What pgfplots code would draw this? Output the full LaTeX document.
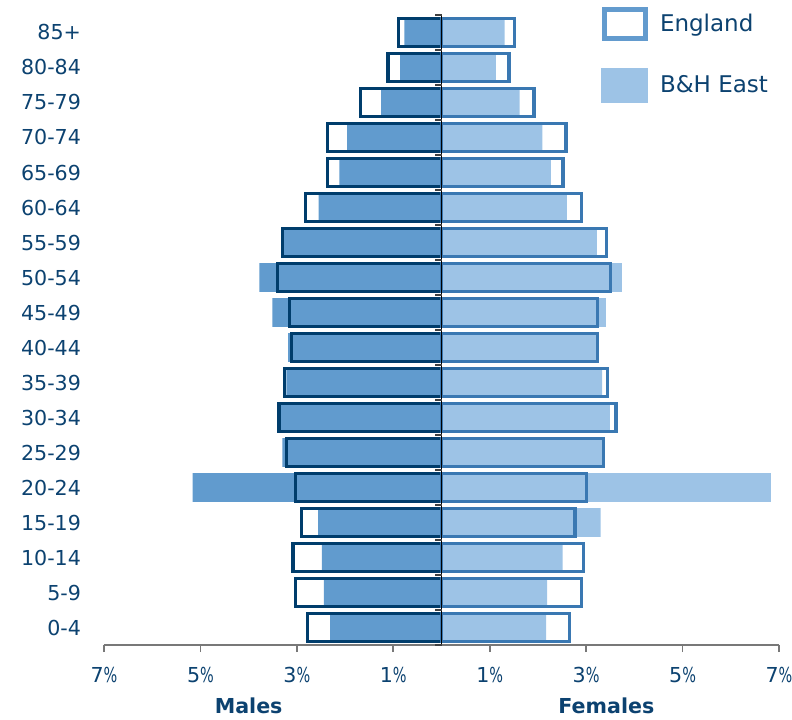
\documentclass[border=0pt]{standalone}
\usepackage{fontspec}
\setmainfont{DejaVu Sans}
\usepackage{pgfplots}
\usepackage{pgfplotstable}
\pgfplotsset{compat=1.18}
\usetikzlibrary{calc}
\definecolor{maleFill}{RGB}{97,155,206}
\definecolor{femaleFill}{RGB}{157,195,230}
\definecolor{maleEdge}{RGB}{0,61,108}
\definecolor{femaleEdge}{RGB}{58,120,178}
\definecolor{legBlue}{RGB}{99,155,206}
\definecolor{txt}{RGB}{12,66,112}
\definecolor{axisgray}{RGB}{120,120,120}
\newcommand\pc{\scalebox{0.7}[1]{\%}}
% idx  mBH  mEN  fBH  fEN   (males negative)
\pgfplotstableread{
idx mBH mEN fBH fEN
0 -2.31 -2.78 2.17 2.66
1 -2.44 -3.03 2.19 2.90
2 -2.48 -3.08 2.51 2.94
3 -2.56 -2.91 3.30 2.77
4 -5.16 -3.03 6.83 3.00
5 -3.30 -3.22 3.34 3.36
6 -3.36 -3.37 3.49 3.62
7 -3.22 -3.26 3.33 3.44
8 -3.18 -3.11 3.20 3.23
9 -3.51 -3.15 3.41 3.23
10 -3.78 -3.40 3.74 3.51
11 -3.28 -3.30 3.22 3.43
12 -2.55 -2.82 2.60 2.91
13 -2.12 -2.36 2.27 2.52
14 -1.96 -2.36 2.09 2.58
15 -1.25 -1.68 1.62 1.92
16 -0.86 -1.11 1.13 1.40
17 -0.77 -0.90 1.31 1.52
}\pyr
\begin{document}
\begin{tikzpicture}
\begin{axis}[
  scale only axis, width=337.5pt, height=315pt,
  xmin=-7, xmax=7, ymin=-0.5, ymax=17.5,
  axis x line*=bottom, axis y line*=left,
  y axis line style={draw=none},
  x axis line style={draw=axisgray, line width=0.8pt},
  xtick={-7,-5,-3,-1,1,3,5,7},
  xticklabels={7\pc,5\pc,3\pc,1\pc,1\pc,3\pc,5\pc,7\pc},
  xtick style={draw=axisgray, line width=0.8pt},
  tick align=outside, major tick length=3.5pt,
  ytick={0,...,17},
  yticklabels={0-4,5-9,10-14,15-19,20-24,25-29,30-34,35-39,40-44,45-49,50-54,55-59,60-64,65-69,70-74,75-79,80-84,85+},
  ytick style={draw=none},
  tick label style={font=\fontsize{10.3}{12}\selectfont, text=txt},
  xticklabel style={yshift=-4pt},
  yticklabel style={xshift=-4.5pt},
  xbar, bar width=0.82, bar shift=0pt,
  clip=false,
  legend style={at={(0.736,1.0132)}, anchor=north west, draw=none, fill=none,
    inner sep=0pt, row sep=13.5pt, column sep=4pt,
    font=\fontsize{11.5}{13}\selectfont, text=txt, cells={anchor=west}},
]
\addlegendimage{legend image code/.code={\draw[draw=legBlue, line width=2.5pt, fill=white] (1.25pt,-7.25pt) rectangle (21.75pt,7.25pt);}}
\addlegendentry{England}
\addlegendimage{legend image code/.code={\fill[femaleFill] (0pt,-8.5pt) rectangle (23pt,8.5pt);}}
\addlegendentry{B\&H East}
\addplot[fill=maleFill, draw=none, forget plot] table[x=mBH, y=idx] {\pyr};
\addplot[fill=femaleFill, draw=none, forget plot] table[x=fBH, y=idx] {\pyr};
\addplot[fill=none, draw=maleEdge, line width=1.6pt, forget plot] table[x=mEN, y=idx] {\pyr};
\addplot[fill=none, draw=femaleEdge, line width=1.6pt, forget plot] table[x=fEN, y=idx] {\pyr};
\draw[black, line width=0.8pt] (axis cs:0,-0.5) -- (axis cs:0,17.5);
\pgfplotsinvokeforeach{-0.5,0.5,...,17.5}{\draw[black!75, line width=0.6pt] (axis cs:0,#1) -- ([xshift=-3.5pt]axis cs:0,#1);}
\node[font=\bfseries\fontsize{10.3}{12}\selectfont, text=txt, yshift=-30.5pt] at (axis cs:-4,-0.5) {Males};
\node[font=\bfseries\fontsize{10.3}{12}\selectfont, text=txt, yshift=-30.5pt] at (axis cs:3.42,-0.5) {Females};
\end{axis}
\pgfresetboundingbox
\path ($(current axis.south west)+(-52pt,-37pt)$) rectangle ($(current axis.north east)+(6.5pt,7.5pt)$);
\end{tikzpicture}
\end{document}
